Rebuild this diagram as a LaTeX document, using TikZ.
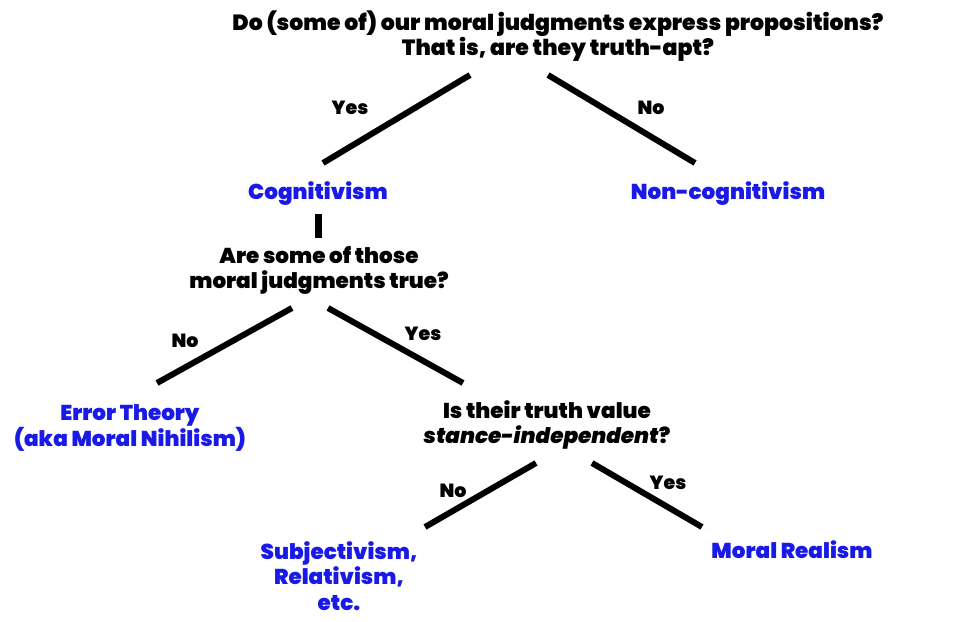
\documentclass[tikz,border=0pt]{standalone}
\usepackage{fontspec}
\setmainfont{Poppins}[BoldFont=* Black, BoldItalicFont=* Black Italic]
\definecolor{tblue}{RGB}{26,26,230}
\begin{document}
\begin{tikzpicture}[x=1pt,y=-1pt,
  q/.style={font=\fontsize{21.5}{25}\selectfont\bfseries, text=black, align=center, inner sep=0pt},
  ans/.style={font=\fontsize{21.5}{25.5}\selectfont\bfseries, text=tblue, align=center, inner sep=0pt},
  lab/.style={font=\fontsize{19}{20}\selectfont\bfseries, text=black, inner sep=0pt},
  br/.style={line width=6pt, black}]
\useasboundingbox (0,0) rectangle (971,621);
% questions
\node[q, font=\fontsize{22}{25}\selectfont\bfseries] (q1) at (558,36) {Do (some of) our moral judgments express propositions?\\That is, are they truth-apt?};
\node[q] (q2) at (319,270) {Are some of those\\moral judgments true?};
\node[q] (q3) at (547,425) {Is their truth value\\\textit{stance-independent}?};
% answers
\node[ans] (cog) at (318,194) {Cognitivism};
\node[ans] (ncog) at (728,194) {Non-cognitivism};
\node[ans] (err) at (130,428) {Error Theory\\(aka Moral Nihilism)};
\node[ans] (subj) at (339,576) {Subjectivism,\\Relativism,\\etc.};
\node[ans] (real) at (792,550) {Moral Realism};
% branch end points
\coordinate (a1) at (470,75); \coordinate (a2) at (323,163);
\coordinate (b1) at (548,75); \coordinate (b2) at (695,163);
\coordinate (c1) at (318,214); \coordinate (c2) at (318,238);
\coordinate (d1) at (292,308); \coordinate (d2) at (157,383);
\coordinate (e1) at (328,308); \coordinate (e2) at (463,383);
\coordinate (f1) at (536,463); \coordinate (f2) at (425,527);
\coordinate (g1) at (592,463); \coordinate (g2) at (702,527);
\draw[br] (a1) -- (a2);
\draw[br] (b1) -- (b2);
\draw[line width=7pt, black] (c1) -- (c2);
\draw[br] (d1) -- (d2);
\draw[br] (e1) -- (e2);
\draw[br] (f1) -- (f2);
\draw[br] (g1) -- (g2);
% labels
\node[lab] (l1) at (350,108) {Yes};
\node[lab] (l2) at (651,108) {No};
\node[lab] (l3) at (185,341) {No};
\node[lab] (l4) at (423,334) {Yes};
\node[lab] (l5) at (453,491) {No};
\node[lab] (l6) at (668,483) {Yes};
\end{tikzpicture}
\end{document}
